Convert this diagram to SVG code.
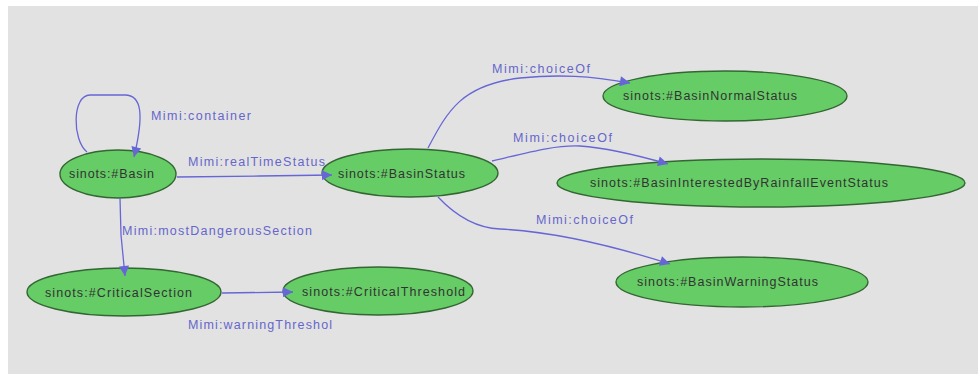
<svg xmlns="http://www.w3.org/2000/svg" width="978" height="374" viewBox="0 0 978 374">
<defs>
<marker id="arr" viewBox="0 0 10 10" refX="10" refY="5" markerWidth="12" markerHeight="10" markerUnits="userSpaceOnUse" orient="auto">
<path d="M0,0 L10,5 L0,10 Z" fill="#6666d6"/>
</marker>
</defs>
<style>
.bg{fill:#e2e2e2}
.node ellipse{fill:#66cc66;stroke:#336633;stroke-width:1.4}
.node text{font-family:"Liberation Sans",Arial,sans-serif;font-size:12.5px;fill:#333333}
.edge{fill:none;stroke:#6666d6;stroke-width:1.3;marker-end:url(#arr)}
.lbl{font-family:"Liberation Sans",Arial,sans-serif;font-size:12.5px;fill:#6666cc}
</style>
<rect class="bg" x="8" y="6" width="970" height="368"/>
<g id="n-basin" class="node">
<ellipse cx="118" cy="174" rx="58" ry="24"/>
<text x="69" y="178" textLength="85">sinots:#Basin</text>
</g>
<g id="n-criticalsection" class="node">
<ellipse cx="124" cy="292" rx="97" ry="24"/>
<text x="45" y="297" textLength="147">sinots:#CriticalSection</text>
</g>
<g id="n-criticalthreshold" class="node">
<ellipse cx="378" cy="291" rx="95" ry="24"/>
<text x="302" y="296" textLength="163">sinots:#CriticalThreshold</text>
</g>
<g id="n-basinstatus" class="node">
<ellipse cx="410" cy="173" rx="88" ry="24"/>
<text x="338" y="178" textLength="127">sinots:#BasinStatus</text>
</g>
<g id="n-normal" class="node">
<ellipse cx="725" cy="96" rx="122" ry="25"/>
<text x="623" y="100" textLength="174">sinots:#BasinNormalStatus</text>
</g>
<g id="n-interested" class="node">
<ellipse cx="761" cy="183" rx="204" ry="24"/>
<text x="590" y="187" textLength="298">sinots:#BasinInterestedByRainfallEventStatus</text>
</g>
<g id="n-warning" class="node">
<ellipse cx="742" cy="282" rx="126" ry="25"/>
<text x="637" y="286" textLength="181">sinots:#BasinWarningStatus</text>
</g>
<g id="connectors">
<path class="edge" d="M87,152 C72,140 72,95 90,95 L125,95 C142,95 144,115 134,157"/>
<path class="edge" d="M177,177 L260,176 L332,175"/>
<path class="edge" d="M120,198 L121,235 L125,276"/>
<path class="edge" d="M222,293 L293,292"/>
<path class="edge" d="M428,148 C448,110 462,85 520,78 C560,74 590,76 630,83"/>
<path class="edge" d="M492,161 C530,152 555,145 580,146 C610,148 640,156 668,164"/>
<path class="edge" d="M438,197 C455,215 475,228 500,229 C560,232 620,248 670,264"/>
<text class="lbl" x="151" y="120" textLength="100">Mimi:container</text>
<text class="lbl" x="188" y="166" textLength="137">Mimi:realTimeStatus</text>
<text class="lbl" x="122" y="235" textLength="190">Mimi:mostDangerousSection</text>
<text class="lbl" x="188" y="329" textLength="144">Mimi:warningThreshol</text>
<text class="lbl" x="492" y="73" textLength="98">Mimi:choiceOf</text>
<text class="lbl" x="513" y="142" textLength="99">Mimi:choiceOf</text>
<text class="lbl" x="536" y="224" textLength="97">Mimi:choiceOf</text>
</g>
</svg>
